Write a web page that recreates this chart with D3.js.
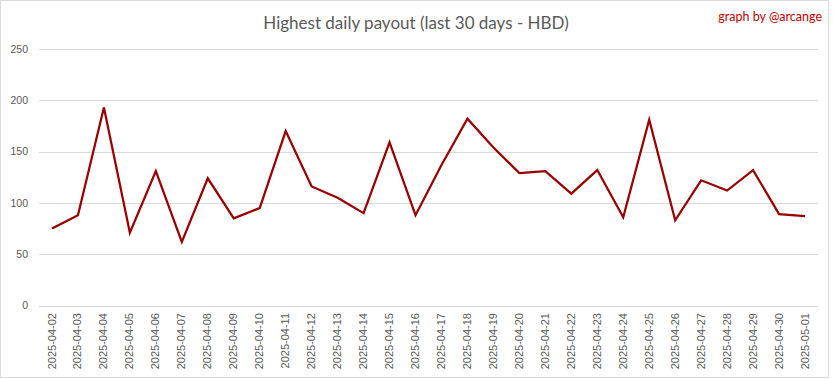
<!DOCTYPE html>
<html><head><meta charset="utf-8">
<script src="https://cdn.jsdelivr.net/npm/d3@7"></script>
<style>body{margin:0;background:#fff}svg{display:block}</style>
</head><body>
<script>
const dates = ["2025-04-02","2025-04-03","2025-04-04","2025-04-05","2025-04-06","2025-04-07","2025-04-08","2025-04-09","2025-04-10","2025-04-11","2025-04-12","2025-04-13","2025-04-14","2025-04-15","2025-04-16","2025-04-17","2025-04-18","2025-04-19","2025-04-20","2025-04-21","2025-04-22","2025-04-23","2025-04-24","2025-04-25","2025-04-26","2025-04-27","2025-04-28","2025-04-29","2025-04-30","2025-05-01"];
const payouts = [75,88,193,71,131,62,124,85,95,170,116,105,90,159,88,137,182,154,129,131,109,132,86,181,83,122,112,132,89,87];
const yTicks = [0,50,100,150,200,250];
const title = "Highest daily payout (last 30 days - HBD)";
const credit = "graph by @arcange";

const W = 833, H = 379;
const svg = d3.select("body").append("svg").attr("width", W).attr("height", H);
svg.append("rect").attr("x",0.5).attr("y",0.5).attr("width",828).attr("height",377)
  .attr("fill","#fff").attr("stroke","#d9d9d9");

const x = d3.scaleBand().domain(dates).range([39, 818]);
const y = d3.scaleLinear().domain([0, 250]).range([305.5, 49]);

const grid = svg.append("g");
grid.selectAll("line").data(yTicks).join("line")
  .attr("x1", 39).attr("x2", 818)
  .attr("y1", d => Math.round(y(d)) + 0.5).attr("y2", d => Math.round(y(d)) + 0.5)
  .attr("stroke", "#d9d9d9").attr("stroke-width", 1);

const yAxis = svg.append("g").attr("transform", "translate(33,0)")
  .call(d3.axisLeft(y).tickValues(yTicks).tickSize(0).tickPadding(5));
yAxis.select(".domain").remove();
yAxis.selectAll("text").attr("font-family", "Liberation Sans, Arial, sans-serif")
  .attr("font-size", "10.5px").attr("fill", "#595959");

const xAxis = svg.append("g").attr("transform", "translate(0,306)")
  .call(d3.axisBottom(x).tickSize(0).tickPadding(7));
xAxis.select(".domain").remove();
xAxis.selectAll("text")
  .attr("font-family", "Liberation Sans, Arial, sans-serif")
  .attr("font-size", "11px").attr("fill", "#595959")
  .attr("text-anchor", "end").attr("dx", "-7px").attr("dy", "0.32em")
  .attr("x", 0).attr("y", 0)
  .attr("transform", "rotate(-90)");

const line = d3.line().x((d, i) => x(dates[i]) + x.bandwidth() / 2).y(d => y(d));
svg.append("path").datum(payouts).attr("d", line)
  .attr("fill", "none").attr("stroke", "#990000").attr("stroke-width", 2.25)
  .attr("stroke-linejoin", "miter");

svg.append("text").attr("x", 416).attr("y", 29).attr("text-anchor", "middle")
  .attr("font-family", "Lato, Carlito, sans-serif").attr("font-size", "17px")
  .attr("fill", "#595959").text(title);
svg.append("text").attr("x", 822).attr("y", 21).attr("text-anchor", "end")
  .attr("font-family", "Lato, Carlito, sans-serif").attr("font-size", "12.5px")
  .attr("fill", "#c00000").text(credit);
</script>
</body></html>
